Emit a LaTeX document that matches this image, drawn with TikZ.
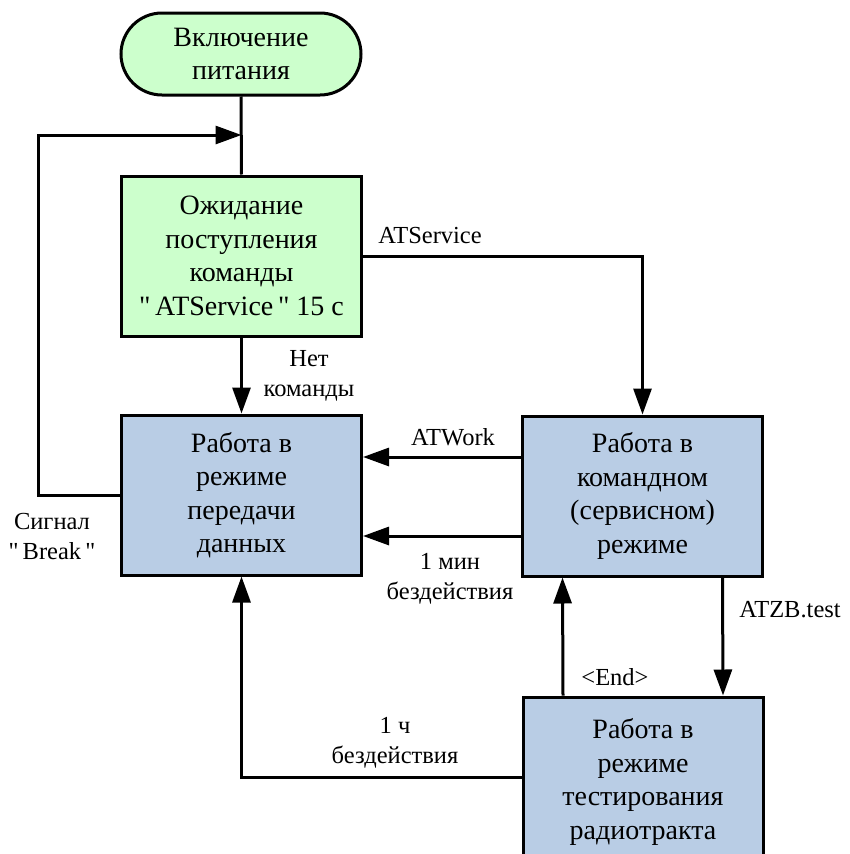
\documentclass[tikz,border=0pt]{standalone}
\usepackage{fontspec}
\setmainfont{Liberation Serif}[Ligatures=TeXOff]
\usetikzlibrary{arrows.meta,calc}
\definecolor{termgreen}{HTML}{CCFFCC}
\definecolor{boxgreen}{HTML}{CCFFCC}
\definecolor{boxblue}{HTML}{B9CDE5}
\begin{document}
\begin{tikzpicture}[x=1pt,y=-1pt,
  every node/.style={font=\fontsize{28}{33.5}\selectfont, align=center, inner sep=0pt},
  blk/.style={draw=black, line width=3pt, minimum width=240pt, minimum height=160pt},
  term/.style={draw=black, line width=3pt, minimum width=240pt, minimum height=82pt, rounded corners=41pt, fill=termgreen},
  line/.style={draw=black, line width=3pt},
  arr/.style={line, -{Triangle[length=26pt,width=18pt]}},
  lbl/.style={font=\fontsize{24.5}{30}\selectfont}]
\useasboundingbox (0,0) rectangle (849,854);
\clip (0,0) rectangle (849,854);
\node[term] (on) at (241,54) {Включение\\питания};
\node[blk, fill=boxgreen] (wait) at (241.5,256) {Ожидание\\поступления\\команды\\"\,ATService\," 15 с};
\node[blk, fill=boxblue] (data) at (241.5,495) {Работа в\\режиме\\передачи\\данных};
\node[blk, fill=boxblue] (cmd) at (642.5,496) {Работа в\\командном\\(сервисном)\\режиме};
\node[blk, fill=boxblue, minimum height=170pt] (test) at (643,782) {Работа в\\режиме\\тестирования\\радиотракта};
\coordinate (j) at (241.5,135);

\draw[line] (on.south) -- (wait.north);
\draw[arr] (data.west) -- ++(-82,0) |- (j);
\draw[arr] (wait.south) -- (data.north);
\draw[arr] (wait.east) -| (cmd.north);
\draw[arr] ([yshift=39pt]cmd.west) -- ([yshift=39pt]cmd.west -| data.east);
\draw[arr] ([yshift=-40pt]cmd.west) -- ([yshift=-40pt]cmd.west -| data.east);
\draw[arr] ([xshift=80pt]cmd.south) -- ([xshift=80pt]test.north);
\draw[arr] ([xshift=-80pt]test.north) -- ([xshift=-80pt]cmd.south);
\draw[arr] ([yshift=5pt]test.west) -| (data.south);

\node[lbl] (lsvc) at (430,236) {ATService};
\node[lbl] (lnet) at (309,376) {Нет\\команды};
\node[lbl] (lwork) at (453,437) {ATWork};
\node[lbl] (lmin) at (450,579) {1 мин\\бездействия};
\node[lbl] (lbrk) at (52,537) {Сигнал\\"\,Break\,"};
\node[lbl] (latzb) at (790,610) {ATZB.test};
\node[lbl] (lend) at (615,677) {<End>};
\node[lbl] (lh) at (395,743) {1 ч\\бездействия};
\end{tikzpicture}
\end{document}
